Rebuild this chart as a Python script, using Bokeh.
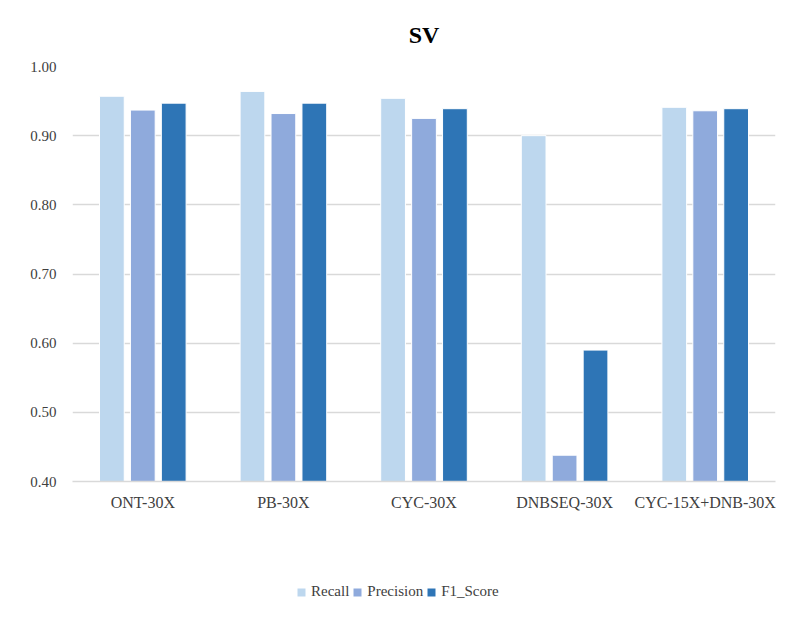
from bokeh.plotting import figure
from bokeh.models import ColumnDataSource, Range1d, FactorRange, Legend, LegendItem, NumeralTickFormatter
from bokeh.layouts import column
from bokeh.transform import dodge
from bokeh.embed import file_html
from bokeh.resources import INLINE

categories = ["ONT-30X", "PB-30X", "CYC-30X", "DNBSEQ-30X", "CYC-15X+DNB-30X"]
recall = [0.957, 0.964, 0.954, 0.900, 0.941]
precision = [0.937, 0.932, 0.925, 0.438, 0.936]
f1_score = [0.947, 0.947, 0.939, 0.590, 0.939]
series_names = ["Recall", "Precision", "F1_Score"]
colors = ["#BDD7EE", "#8FAADC", "#2E75B6"]

source = ColumnDataSource(dict(cat=categories, Recall=recall, Precision=precision, F1_Score=f1_score))

FONT = "Liberation Serif"
TXT = "#404040"

p = figure(width=800, height=560, x_range=FactorRange(*categories), y_range=Range1d(0.4, 1.0),
           output_backend="svg", toolbar_location=None,
           min_border_left=72, min_border_right=25, min_border_top=66, min_border_bottom=79)
p.title.text = "SV"
p.title.align = "center"
p.title.text_font = FONT
p.title.text_font_size = "24px"
p.title.text_font_style = "bold"
p.title.text_color = "#000000"
p.title.standoff = 38
p.outline_line_color = None
p.background_fill_color = "white"

offsets = [-0.22, 0.0, 0.22]
for name, col, off in zip(series_names, colors, offsets):
    p.vbar(x=dodge("cat", off, range=p.x_range), top=name, bottom=0.4, width=0.176,
           source=source, fill_color=col, line_color="white", line_width=1)

p.ygrid.grid_line_color = "#D9D9D9"
p.ygrid.grid_line_width = 1.5
p.xgrid.grid_line_color = None

p.yaxis.ticker = [0.4, 0.5, 0.6, 0.7, 0.8, 0.9, 1.0]
p.yaxis.formatter = NumeralTickFormatter(format="0.00")
p.yaxis.axis_line_color = None
p.yaxis.major_tick_line_color = None
p.yaxis.minor_tick_line_color = None
p.yaxis.major_label_text_font = FONT
p.yaxis.major_label_text_font_size = "15px"
p.yaxis.major_label_text_color = TXT
p.yaxis.major_label_standoff = 10

p.xaxis.axis_line_color = "#D9D9D9"
p.xaxis.axis_line_width = 1.5
p.xaxis.major_tick_line_color = None
p.xaxis.minor_tick_line_color = None
p.xaxis.major_label_text_font = FONT
p.xaxis.major_label_text_font_size = "16px"
p.xaxis.major_label_text_color = TXT
p.xaxis.major_label_standoff = 6

# legend strip
lg = figure(width=800, height=57, x_range=Range1d(0, 1), y_range=Range1d(10, 11),
            output_backend="svg", toolbar_location=None,
            min_border_left=0, min_border_right=0, min_border_top=0, min_border_bottom=0)
lg.axis.visible = False
lg.grid.visible = False
lg.outline_line_color = None
dummy = []
for name, col in zip(series_names, colors):
    r = lg.vbar(x=[0.5], top=[0.5], bottom=[0.0], width=0.1, fill_color=col, line_color=None)
    dummy.append(r)
legend = Legend(items=[LegendItem(label=n, renderers=[r]) for n, r in zip(series_names, dummy)],
                orientation="horizontal", location=(224, 17),
                glyph_width=10, glyph_height=10, label_standoff=5, spacing=3,
                label_text_font=FONT, label_text_font_size="15px", label_text_color=TXT,
                border_line_color=None, background_fill_alpha=0, padding=0, margin=0)
lg.add_layout(legend, "center")

layout = column(p, lg, spacing=0)
open("out.html", "w").write(file_html(layout, INLINE))
